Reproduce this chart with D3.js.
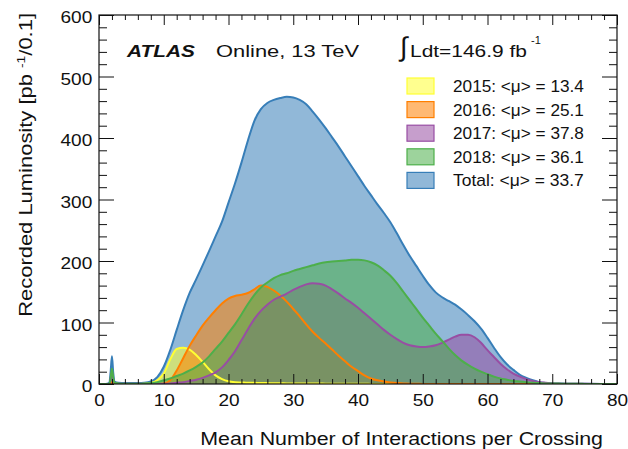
<!DOCTYPE html>
<html>
<head>
<meta charset="utf-8">
<script src="https://cdn.jsdelivr.net/npm/d3@7"></script>
<style>
  body { margin: 0; background: #fff; }
  svg { display: block; }
  text { font-family: "Liberation Sans", Arial, Helvetica, sans-serif; fill: #111; }
</style>
</head>
<body>
<svg id="chart" width="628" height="449"></svg>
<script>
// Mean number of interactions per crossing (bin centres used for the curves)
const mu = [0, 1, 1.6, 1.8, 2, 2.2, 2.4,
  3, 4, 5, 6, 7, 8, 9, 10, 11, 12, 13, 14, 15, 16, 17, 18, 19, 20, 21, 22, 23, 24,
  25, 26, 27, 28, 29, 30, 31, 32, 33, 34, 35, 36, 37, 38, 39, 40, 41, 42, 43, 44, 45, 46,
  47, 48, 49, 50, 51, 52, 53, 54, 55, 56, 57, 58, 59, 60, 61, 62, 63, 64, 65, 66, 67, 68,
  69, 70, 71, 72, 75, 80];

// Recorded luminosity [pb^-1 / 0.1] per year and in total
const lumiTotal = [0, 0, 2, 20, 45, 18, 4,
  2, 1.5, 1.5, 1.5, 2, 4, 11, 28, 55, 88, 120, 148, 170, 193, 216, 240, 264, 295, 326, 360, 396, 428,
  447, 457, 462, 465, 467, 466, 462, 455, 443, 430, 416, 401, 386, 370, 354, 338, 322, 307, 292, 278, 263, 245,
  226, 208, 192, 176, 161, 149, 141, 135, 129, 121, 112, 102, 90, 75, 59, 44, 32, 23, 15, 10, 6, 3,
  1.5, 1, 0.8, 0.6, 0.3, 0];

const lumi2015 = [0, 0, 0, 0, 0.5, 0, 0,
  0, 0, 0, 0, 0.3, 1.5, 6, 17, 40, 57, 59, 56, 47, 36, 24, 14, 8, 4.5, 3, 2.5, 2, 2,
  1.5, 1.5, 1.2, 1.2, 1, 1, 1, 0.8, 0.8, 0.7, 0.6, 0.5, 0.5, 0.4, 0.4, 0.3, 0.3, 0.2, 0.2, 0.2, 0.1, 0,
  0, 0, 0, 0, 0, 0, 0, 0, 0, 0, 0, 0, 0, 0, 0, 0, 0, 0, 0, 0, 0, 0,
  0, 0, 0, 0, 0, 0];

const lumi2016 = [0, 0, 0, 1, 3, 1, 0,
  0, 0, 0, 0, 0, 0, 0.3, 1, 6, 22, 42, 62, 79, 95, 108, 120, 131, 139, 143, 145, 148, 154,
  160, 158, 152, 144, 134, 122, 110, 97, 85, 75, 66, 56, 46, 37, 28, 21, 14, 9, 6, 4, 2.5, 1.5,
  1, 0.5, 0.3, 0.2, 0.2, 0.2, 0.2, 0.2, 0.2, 0.2, 0.2, 0.2, 0.2, 0.2, 0.2, 0.2, 0.2, 0.2, 0.2, 0.2, 0.2, 0.2,
  0.2, 0.2, 0.2, 0.2, 0.1, 0];

const lumi2017 = [0, 0, 0, 8, 20, 8, 2,
  0.5, 0.3, 0.3, 0.3, 0.3, 0.3, 0.3, 0.5, 1, 2, 3, 5, 7, 10, 14, 19, 27, 39, 53, 71, 89, 106,
  119, 129, 137, 142, 147, 153, 158, 162, 164, 163, 160, 154, 147, 139, 132, 124, 115, 106, 97, 88, 80, 73,
  67, 63, 61, 60, 61, 63, 67, 72, 77, 80, 80, 76, 67, 55, 44, 33, 24, 17, 12, 8, 5, 3,
  2, 1, 0.7, 0.5, 0.3, 0];

const lumi2018 = [0, 0, 0.5, 10, 25, 10, 2,
  1, 0.5, 0.5, 0.5, 0.8, 1.5, 3, 6, 9, 13, 17, 22, 28, 35, 45, 57, 69, 83, 97, 113, 130, 145,
  157, 165, 172, 177, 180, 184, 187, 190, 193, 196, 198, 199, 200, 201, 202, 202, 201, 198, 193, 185, 176, 164,
  150, 136, 122, 108, 95, 82, 70, 58, 47, 38, 31, 25, 20, 16, 12, 9, 7, 5, 4, 3, 2, 1.5,
  1, 1, 0.7, 0.5, 0.2, 0];

// Legend entries: year label and luminosity-weighted mean pile-up
const legendNames = ["2015", "2016", "2017", "2018", "Total"];
const legendMeans = ["13.4", "25.1", "37.8", "36.1", "33.7"];

// Axis ticks
const xMajorTicks = [0, 10, 20, 30, 40, 50, 60, 70, 80];
const yMajorTicks = [0, 100, 200, 300, 400, 500, 600];

[lumiTotal, lumi2015, lumi2016, lumi2017, lumi2018].forEach((s, i) => {
  if (s.length !== mu.length) throw new Error("series " + i + " has " + s.length + " values, expected " + mu.length);
});

const svg = d3.select("#chart");
const plot = { left: 99, right: 617, top: 15, bottom: 384 };

const x = d3.scaleLinear().domain([0, 80]).range([plot.left, plot.right]);
const y = d3.scaleLinear().domain([0, 600]).range([plot.bottom, plot.top]);

const colours = {
  "2015": "#ffff33",
  "2016": "#ff7f00",
  "2017": "#984ea3",
  "2018": "#4daf4a",
  "Total": "#377eb8"
};
const fillOpacity = 0.55;

svg.append("defs").append("clipPath").attr("id", "plotclip")
  .append("rect")
  .attr("x", plot.left).attr("y", plot.top)
  .attr("width", plot.right - plot.left).attr("height", plot.bottom - plot.top);

const area = d3.area()
  .x((d, i) => x(mu[i]))
  .y0(y(0))
  .y1(d => y(d))
  .curve(d3.curveMonotoneX);
const line = d3.line()
  .x((d, i) => x(mu[i]))
  .y(d => y(d))
  .curve(d3.curveMonotoneX);

const layers = [
  ["Total", lumiTotal],
  ["2015", lumi2015],
  ["2016", lumi2016],
  ["2017", lumi2017],
  ["2018", lumi2018]
];

// translucent fills first, then every outline on top of them
const gPlot = svg.append("g").attr("clip-path", "url(#plotclip)");
layers.forEach(([name, values]) => {
  gPlot.append("path").datum(values)
    .attr("d", area)
    .attr("fill", colours[name])
    .attr("fill-opacity", fillOpacity)
    .attr("stroke", "none");
});
layers.forEach(([name, values]) => {
  gPlot.append("path").datum(values)
    .attr("d", line)
    .attr("fill", "none")
    .attr("stroke", colours[name])
    .attr("stroke-width", 2)
    .attr("stroke-linejoin", "round");
});

// Axes with inward ticks on all four sides
const tickFont = 17;
function styleAxis(g) {
  g.select(".domain").remove();
  g.selectAll(".tick line").attr("stroke", "#111").attr("stroke-width", 1);
}
const xMinor = d3.range(0, 81, 2).filter(v => v % 10 !== 0);
const yMinor = d3.range(0, 601, 20).filter(v => v % 100 !== 0);

// bottom
svg.append("g").attr("transform", `translate(0,${plot.bottom})`)
  .call(d3.axisBottom(x).tickValues(xMinor).tickSize(-5).tickFormat(""))
  .call(styleAxis);
const gxb = svg.append("g").attr("transform", `translate(0,${plot.bottom})`)
  .call(d3.axisBottom(x).tickValues(xMajorTicks).tickSize(-10).tickPadding(10).tickFormat(d3.format("d")))
  .call(styleAxis);
gxb.selectAll("text")
  .attr("font-size", tickFont).attr("fill", "#111")
  .attr("font-family", "Liberation Sans, Arial, sans-serif")
  .attr("transform", "scale(1.12,1)");

// top
svg.append("g").attr("transform", `translate(0,${plot.top})`)
  .call(d3.axisTop(x).tickValues(xMinor).tickSize(-5).tickFormat(""))
  .call(styleAxis);
svg.append("g").attr("transform", `translate(0,${plot.top})`)
  .call(d3.axisTop(x).tickValues(xMajorTicks).tickSize(-10).tickFormat(""))
  .call(styleAxis);

// left
svg.append("g").attr("transform", `translate(${plot.left},0)`)
  .call(d3.axisLeft(y).tickValues(yMinor).tickSize(-8).tickFormat(""))
  .call(styleAxis);
const gyl = svg.append("g").attr("transform", `translate(${plot.left},0)`)
  .call(d3.axisLeft(y).tickValues(yMajorTicks).tickSize(-15).tickPadding(6).tickFormat(d3.format("d")))
  .call(styleAxis);
gyl.selectAll("text")
  .attr("font-size", tickFont).attr("fill", "#111")
  .attr("font-family", "Liberation Sans, Arial, sans-serif")
  .attr("dy", "0.45em")
  .attr("transform", "scale(1.12,1)");

// right
svg.append("g").attr("transform", `translate(${plot.right},0)`)
  .call(d3.axisRight(y).tickValues(yMinor).tickSize(-8).tickFormat(""))
  .call(styleAxis);
svg.append("g").attr("transform", `translate(${plot.right},0)`)
  .call(d3.axisRight(y).tickValues(yMajorTicks).tickSize(-15).tickFormat(""))
  .call(styleAxis);

// frame
svg.append("rect")
  .attr("x", plot.left).attr("y", plot.top)
  .attr("width", plot.right - plot.left).attr("height", plot.bottom - plot.top)
  .attr("fill", "none").attr("stroke", "#111").attr("stroke-width", 1.2);

// Text placed at (px, py) and stretched along its direction to a given length
function fitText(sel, px, py, length, rotate) {
  const w = sel.node().getBBox().width;
  const s = length ? length / w : 1;
  sel.attr("transform", `translate(${px},${py}) rotate(${rotate || 0}) scale(${s},1)`);
  return sel;
}

// axis titles
const xTitle = svg.append("text")
  .attr("font-size", 18.5).attr("text-anchor", "end")
  .text("Mean Number of Interactions per Crossing");
fitText(xTitle, 603, 445, 403);

const yTitle = svg.append("text")
  .attr("font-size", 17.5).attr("text-anchor", "end");
yTitle.append("tspan").text("Recorded Luminosity [pb ");
yTitle.append("tspan").attr("font-size", 11).attr("dy", -7).text("-1");
yTitle.append("tspan").attr("dy", 7).text("/0.1]");
fitText(yTitle, 32, 13, 304, -90);

// experiment label
const atlas = svg.append("text")
  .attr("font-size", 17).attr("font-weight", "bold").attr("font-style", "italic")
  .text("ATLAS");
fitText(atlas, 127, 57, 70);
const online = svg.append("text").attr("font-size", 17).text("Online, 13 TeV");
fitText(online, 216, 57, 144);

// integrated luminosity
svg.append("text").attr("font-size", 27).attr("x", 400).attr("y", 56).text("\u222B");
const ldt = svg.append("text").attr("font-size", 17).text("Ldt=146.9 fb");
fitText(ldt, 410, 57, 117);
svg.append("text").attr("font-size", 11).attr("x", 531).attr("y", 44).text("-1");

// legend
const legend = svg.append("g");
legendNames.forEach((name, i) => {
  const cy = 86 + i * 23.6;
  legend.append("rect")
    .attr("x", 407).attr("y", cy - 8).attr("width", 27).attr("height", 16)
    .attr("fill", colours[name]).attr("fill-opacity", fillOpacity)
    .attr("stroke", colours[name]).attr("stroke-width", 1.2);
  const t = legend.append("text").attr("font-size", 16)
    .text(`${name}: <\u03BC> = ${legendMeans[i]}`);
  fitText(t, 453, cy + 6, 131);
});
</script>
</body>
</html>
